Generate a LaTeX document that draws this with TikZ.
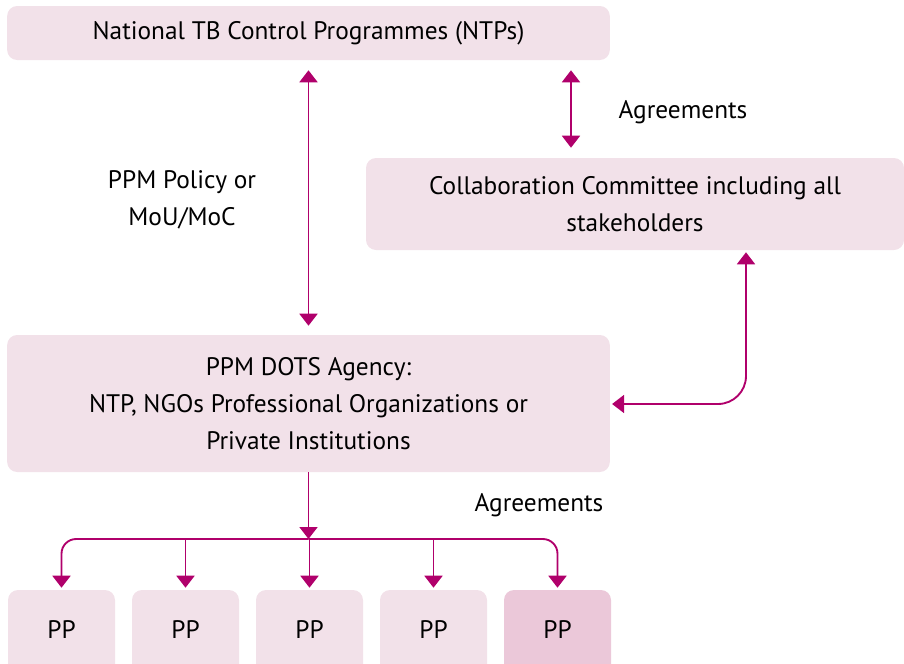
\documentclass[tikz,border=0pt]{standalone}
\usepackage{fontspec}
\setmainfont{PT Sans}
\usetikzlibrary{arrows.meta, positioning, calc}
\definecolor{boxpink}{HTML}{F2E1E9}
\definecolor{boxdeep}{HTML}{EBC8D9}
\definecolor{linkred}{HTML}{B0006B}

\begin{document}
\begin{tikzpicture}[
    x=0.75pt, y=-0.75pt,
    box/.style={rectangle, fill=boxpink, rounded corners=7.5pt, inner sep=0pt, align=center, font=\fontsize{19}{27.75}\selectfont},
    ppbox/.style={box, minimum width=80.25pt, minimum height=63pt},
    lbl/.style={align=center, font=\fontsize{19}{27.75}\selectfont},
    arrow/.style={-{Triangle[width=13.5pt,length=9pt]}, line width=1.4pt, draw=linkred},
    biarrow/.style={{Triangle[width=13.5pt,length=9pt]}-{Triangle[width=13.5pt,length=9pt]}, line width=1.4pt, draw=linkred},
]
\useasboundingbox (0,0) rectangle (904,664);

\node[box, minimum width=452pt, minimum height=40.5pt] (ntp) at (308.5,33) {National TB Control Programmes (NTPs)};
\node[box, minimum width=403.5pt, minimum height=69pt] (ccom) at (635,204) {Collaboration Committee including all\\stakeholders};
\node[box, minimum width=452pt, minimum height=102.75pt] (ppm) at (308.5,403.5) {PPM DOTS Agency:\\NTP, NGOs Professional Organizations or\\Private Institutions};
\foreach \i in {1,...,4}
    \node[ppbox] (pp\i) at ({61.5+124*(\i-1)},632) {\raisebox{3.75pt}{PP}};
\node[ppbox, fill=boxdeep] (pp5) at (557.5,632) {\raisebox{3.75pt}{PP}};

\node[lbl] (policy) at (182,200) {PPM Policy or\\MoU/MoC};
\node[lbl] (agrtop) at (683,112) {Agreements};
\node[lbl] (agrbot) at (539,505) {Agreements};

\coordinate (agr) at (571,0);
\coordinate (link) at (746,404);
\coordinate (bus) at (308.5,539);

\draw[biarrow, shorten <=7.5pt, shorten >=6.75pt] (ntp) -- (ppm);
\draw[biarrow, shorten <=7.5pt, shorten >=7.5pt] (ntp.south -| agr) -- (ccom.north -| agr);
\draw[biarrow, rounded corners=21pt, shorten <=1.5pt, shorten >=1.5pt] (ccom.south -| link) |- (ppm.east |- link);

\draw[arrow] (ppm) -- (bus);
\draw[arrow, rounded corners=11pt, shorten >=1.5pt] (bus) -| (pp1);
\draw[arrow, rounded corners=11pt, shorten >=1.5pt] (bus) -| (pp5);
\foreach \i in {2,3,4}
    \draw[arrow, shorten >=1.5pt] (bus -| pp\i) -- (pp\i);
\end{tikzpicture}
\end{document}
